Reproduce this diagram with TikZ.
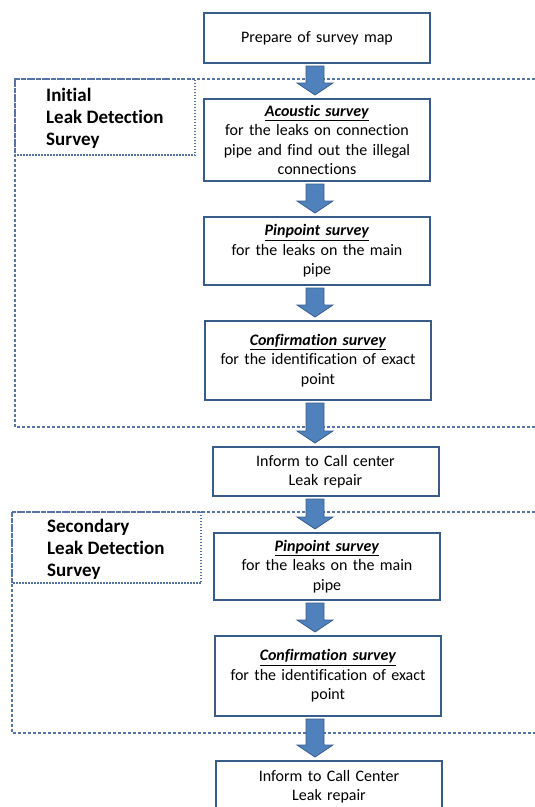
\documentclass[tikz,border=0pt]{standalone}
\usepackage{fontspec}
\setmainfont{Carlito}[Ligatures=NoCommon]
\usetikzlibrary{positioning,calc}
\definecolor{boxblue}{RGB}{56,93,138}
\definecolor{arrowblue}{RGB}{79,129,189}
\definecolor{zonegray}{RGB}{84,116,166}

\newcommand{\stagetitle}[1]{\underline{\textbf{\textit{#1}}}}
% block arrow between two stages, kept on the column line
\newcommand{\flowarrow}[2]{%
  \draw[arrowbody] ($(col |- #1.south)+(-9,2)$) -- ($(col |- #1.south)+(9,2)$)
    -- ($(col |- #2.north)+(9,-15)$) -- ($(col |- #2.north)+(18,-15)$)
    -- ($(col |- #2.north)+(0,-3)$) -- ($(col |- #2.north)+(-18,-15)$)
    -- ($(col |- #2.north)+(-9,-15)$) -- cycle;}

\begin{document}
\begin{tikzpicture}[x=1pt, y=-1pt,
stage/.style={draw=boxblue, line width=2pt, fill=white, inner sep=0pt,
minimum width=226pt, text width=226pt, align=center,
font=\fontsize{16}{19.5}\selectfont},
tag/.style={inner sep=0pt, align=left, font=\fontsize{19}{22}\selectfont\bfseries},
zone/.style={draw=zonegray, line width=2.4pt, dash pattern=on 3pt off 2pt},
tagline/.style={draw=zonegray, line width=1.2pt, dash pattern=on 1.5pt off 1.5pt},
arrowbody/.style={fill=arrowblue, draw=boxblue, line width=0.8pt, line join=miter}
]
\useasboundingbox (0,0) rectangle (535,807);
\clip (0,0) rectangle (535,807);
\fill[white] (0,0) rectangle (535,807);

% dotted zones
\draw[zone] (545,79) -- (15,79) -- (15,427) -- (545,427);
\draw[tagline] (15,79) rectangle (195,155);
\node[tag, anchor=north west] (t1) at (46,88) {Initial\\Leak Detection\\Survey};

\draw[zone] (545,512) -- (12,512) -- (12,733) -- (545,733);
\draw[tagline] (12,512) rectangle (201,583);
\node[tag, anchor=north west] (t2) at (47,519) {Secondary\\Leak Detection\\Survey};

\coordinate (col) at (315,0);

\node[stage, minimum height=50pt] (b1) at (317,38) {Prepare of survey map};
\node[stage, minimum height=82pt] (b2) at (317,140)
{\stagetitle{Acoustic survey}\\for the leaks on connection\\pipe and find out the illegal\\connections};
\node[stage, minimum height=68pt] (b3) at (317,251)
{\stagetitle{Pinpoint survey}\\for the leaks on the main\\pipe};
\node[stage, minimum height=79pt] (b4) at (318,360.5)
{\stagetitle{Confirmation survey}\\for the identification of exact\\point};
\node[stage, minimum height=49pt] (b5) at (325.5,471.5)
{Inform to Call center\\Leak repair};
\node[stage, minimum height=67pt] (b6) at (327,566.5)
{\stagetitle{Pinpoint survey}\\for the leaks on the main\\pipe};
\node[stage, minimum height=80pt] (b7) at (328,676)
{\stagetitle{Confirmation survey}\\for the identification of exact\\point};
\node[stage, minimum height=51pt] (b8) at (329,786.5)
{Inform to Call Center\\Leak repair};

\flowarrow{b1}{b2}
\flowarrow{b2}{b3}
\flowarrow{b3}{b4}
\flowarrow{b4}{b5}
\flowarrow{b5}{b6}
\flowarrow{b6}{b7}
\flowarrow{b7}{b8}

\end{tikzpicture}
\end{document}
